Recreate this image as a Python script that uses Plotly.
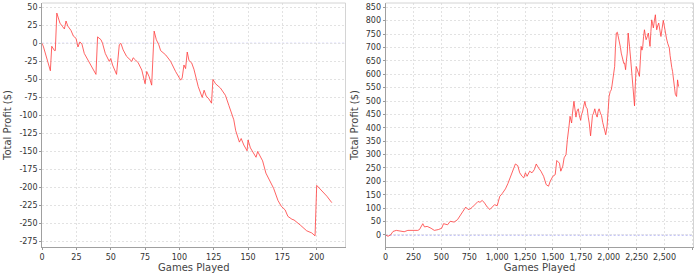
import plotly.graph_objects as go

# ---------- Left chart: ~211 games ----------
left_games = [0, 1, 6, 7, 9, 9.6, 10.7, 12, 13, 15, 16.2, 17.4, 18.7, 21, 22.8, 24.7, 26.1, 27.5, 29,
              30.7, 33.9, 36.8, 39.2, 40.4, 42.9, 44, 46, 48.9, 50, 51.3, 54.2, 56.2, 57.4, 59, 61.5,
              65.3, 66.3, 68, 70, 72.6, 75, 76.2, 77.9, 79.8, 81.6, 83.2, 85, 86.3, 90, 93.6, 97.2,
              100.9, 102, 103.3, 104.5, 105.7, 107, 108.9, 110.6, 113.7, 116.6, 118, 119.5, 121.4,
              123.4, 124.4, 126.3, 129.9, 133.5, 136, 139.6, 141, 143.7, 145, 146.9, 149.3, 150,
              151.7, 154, 155.8, 157, 159, 160.6, 163, 165, 168.6, 171.8, 174.2, 177, 179, 182,
              183.5, 188, 190.4, 192.7, 196.4, 198.8, 200, 203.7, 207.4, 211]
left_profit = [0, -5, -38, -4, -10, -10, 42, 35, 28, 23, 20, 31, 24, 18, 10, 7, -5, 2, -1,
               -14, -25, -35, -43, 9, 5, 0, -14, -25, -21, -30, -43, -2, 0, -9, -18,
               -25, -20, -23, -27, -37, -56, -39, -46, -58, 17, 5, -2, -10, -16, -25, -39,
               -51, -48, -30, -35, -12, -24, -27, -36, -60, -75, -65, -73, -77,
               -83, -50, -56, -62, -72, -86, -106, -121, -137, -132, -141, -149, -134,
               -145, -153, -158, -150, -157, -163, -180, -188, -201, -218, -226, -231, -240, -244,
               -245, -252, -256, -260, -263, -267, -197, -204, -212, -221]

# ---------- Right chart: ~2,625 games ----------
right_games = [0, 21, 44, 66, 95, 140, 166, 199, 258, 288, 303, 333, 348, 372, 407, 436, 472, 502,
               519, 555, 579, 614, 644, 674, 689, 718, 739, 757, 778, 798, 828, 846, 866, 887, 911,
               935, 955, 976, 1000, 1023, 1044, 1074, 1095, 1119, 1143, 1163, 1184, 1202, 1223,
               1238, 1253, 1268, 1291, 1312, 1333, 1350, 1371, 1392, 1416, 1439, 1460, 1475, 1499,
               1520, 1534, 1558, 1570, 1588, 1600, 1617, 1629, 1638, 1645, 1653, 1660, 1667, 1675,
               1688, 1697, 1706, 1715, 1727, 1737, 1748, 1756, 1765, 1775, 1786, 1796, 1807, 1816,
               1825, 1837, 1845, 1854, 1864, 1875, 1885, 1896, 1905, 1914, 1925, 1935, 1946, 1956,
               1965, 1973, 1985, 1994, 2003, 2013, 2023, 2030, 2038, 2046, 2053, 2060, 2068, 2077,
               2087, 2097, 2105, 2112, 2120, 2127, 2135, 2142, 2151, 2158, 2166, 2174, 2180, 2186,
               2194, 2201, 2209, 2216, 2224, 2231, 2238, 2246, 2254, 2261, 2268, 2275, 2283, 2290,
               2298, 2305, 2312, 2320, 2328, 2335, 2345, 2355, 2362, 2370, 2378, 2385, 2392, 2400,
               2409, 2418, 2424, 2430, 2438, 2448, 2458, 2468, 2478, 2489, 2498, 2507, 2517, 2528,
               2535, 2543, 2550, 2557, 2565, 2572, 2580, 2587, 2597, 2608, 2613, 2617, 2622, 2626]
right_profit = [0, -5, 0, 13, 17, 13, 12, 17, 16, 17, 20, 42, 30, 32, 25, 17, 20, 25,
                42, 38, 51, 48, 57, 76, 88, 104, 95, 97, 104, 113, 125, 122, 129, 119, 104,
                95, 104, 113, 109, 144, 154, 172, 191, 219, 244, 265, 259, 232, 219,
                213, 232, 219, 238, 232, 244, 265, 250, 238, 219, 188, 182, 200, 219,
                225, 278, 268, 238, 257, 288, 300, 356, 381, 410, 443, 425, 418, 455,
                499, 470, 440, 462, 471, 445, 428, 450, 459, 480, 499, 478, 471, 440,
                418, 370, 420, 446, 455, 471, 452, 440, 462, 471, 455, 446, 420, 399,
                385, 374, 405, 470, 517, 535, 542, 560, 579, 600, 629, 700, 754, 757,
                740, 716, 700, 679, 665, 654, 640, 642, 617, 650, 679, 754, 735, 704,
                668, 629, 600, 567, 520, 482, 560, 629, 620, 611, 600, 592, 650, 704,
                690, 704, 740, 766, 745, 729, 740, 754, 730, 704, 760, 803, 790, 773,
                800, 822, 790, 766, 780, 791, 765, 741, 770, 801, 780, 754, 735, 716,
                705, 698, 670, 642, 625, 611, 580, 542, 525, 517, 560, 579, 565, 554]

LINE = "rgba(255, 60, 60, 0.8)"
AX_FONT = dict(family="DejaVu Sans", size=8, color="#333333")
TITLE_FONT = dict(family="DejaVu Sans", size=10, color="#444444")
GRID = "#e2e2e2"
AXLINE = "#a0a0a0"
FRAME = "#d4d4d4"

left_xticks = list(range(0, 201, 25))
left_yticks = list(range(-275, 51, 25))
right_xticks = list(range(0, 2751, 250))
right_yticks = list(range(0, 851, 50))

def fmt_thousands(v):
    return f"{v:,}"

fig = go.Figure()
fig.add_trace(go.Scatter(x=left_games, y=left_profit, mode="lines",
                         line=dict(color=LINE, width=1), xaxis="x", yaxis="y", showlegend=False))
fig.add_trace(go.Scatter(x=right_games, y=right_profit, mode="lines",
                         line=dict(color=LINE, width=1), xaxis="x2", yaxis="y2", showlegend=False))

common = dict(showgrid=True, gridcolor=GRID, griddash="2px,2px", gridwidth=1,
              showline=True, linecolor=AXLINE, linewidth=1, mirror=False,
              zeroline=False, ticks="outside", ticklen=2, tickcolor="#999999",
              tickfont=AX_FONT)

ytop, ybot = 1 - 3 / 273, 1 - 247 / 273

fig.update_layout(
    width=700, height=273,
    margin=dict(l=0, r=0, t=0, b=0),
    paper_bgcolor="white", plot_bgcolor="white",
    xaxis=dict(domain=[39.3 / 700, 344 / 700], range=[0, 221], anchor="y",
               tickvals=left_xticks, ticktext=[str(v) for v in left_xticks],
               title=dict(text="Games Played", font=TITLE_FONT, standoff=4), **common),
    yaxis=dict(domain=[ybot, ytop], range=[-282.5, 56], anchor="x",
               tickvals=left_yticks, ticktext=[str(v) for v in left_yticks],
               title=dict(text="Total Profit ($)", font=TITLE_FONT, standoff=5), **common),
    xaxis2=dict(domain=[384.3 / 700, 693.5 / 700], range=[0, 2760], anchor="y2",
                tickvals=right_xticks, ticktext=[fmt_thousands(v) for v in right_xticks],
                title=dict(text="Games Played", font=TITLE_FONT, standoff=4), **common),
    yaxis2=dict(domain=[ybot, ytop], range=[-45, 866], anchor="x2",
                tickvals=right_yticks, ticktext=[str(v) for v in right_yticks],
                title=dict(text="Total Profit ($)", font=TITLE_FONT, standoff=5), **common),
    shapes=[
        dict(type="line", xref="x domain", yref="y", x0=0, x1=1, y0=0, y1=0,
             line=dict(color="#7b7bf0", width=1, dash="2px,2px"), layer="below"),
        dict(type="line", xref="x2 domain", yref="y2", x0=0, x1=1, y0=0, y1=0,
             line=dict(color="#7b7bf0", width=1, dash="2px,2px"), layer="below"),
        # light frame on top and right sides
        dict(type="line", xref="x domain", yref="y domain", x0=0, x1=1, y0=1, y1=1,
             line=dict(color=FRAME, width=1)),
        dict(type="line", xref="x domain", yref="y domain", x0=1, x1=1, y0=0, y1=1,
             line=dict(color=FRAME, width=1)),
        dict(type="line", xref="x2 domain", yref="y2 domain", x0=0, x1=1, y0=1, y1=1,
             line=dict(color=FRAME, width=1)),
        dict(type="line", xref="x2 domain", yref="y2 domain", x0=1, x1=1, y0=0, y1=1,
             line=dict(color=FRAME, width=1)),
    ],
)

fig.write_html("out.html")
